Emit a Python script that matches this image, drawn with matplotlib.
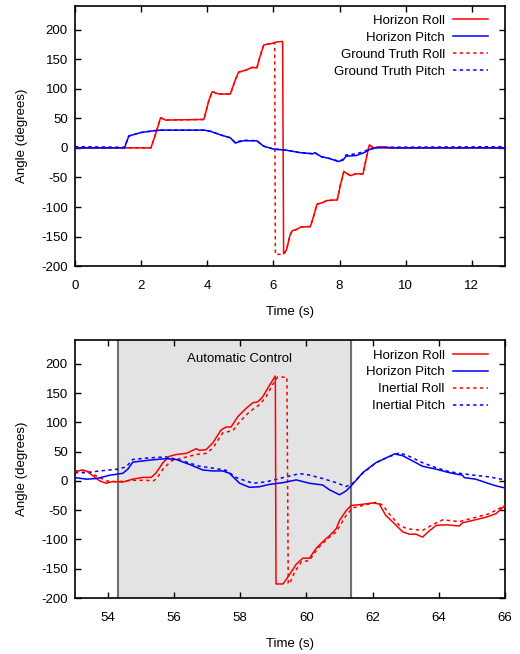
import numpy as np
import matplotlib
matplotlib.use("Agg")
import matplotlib.pyplot as plt

plt.rcParams['font.family'] = ['Liberation Sans', 'DejaVu Sans']
plt.rcParams['font.size'] = 9.5
plt.rcParams['axes.unicode_minus'] = False

# ---- top panel: horizon vs ground truth ----
t_roll_top = [0, 2.3, 2.45, 2.59, 2.74, 3.9, 4.05, 4.15, 4.35, 4.7, 4.85, 4.95, 5.15, 5.36, 5.5,
              5.6, 5.71, 5.91, 6.11, 6.28, 6.31, 6.4, 6.5, 6.57, 6.7, 6.82, 7.12, 7.22, 7.32,
              7.47, 7.62, 7.93, 8.03, 8.13, 8.33, 8.48, 8.71, 8.8, 8.9, 9.03, 9.28, 9.6, 13]
v_roll_top = [0, 0, 25, 51, 47, 48, 80, 95, 91, 91, 115, 128, 131, 136, 135,
              155, 174, 176, 179, 180, -179, -172, -148, -140, -138, -134, -133, -115, -95,
              -93, -89, -88, -62, -40, -47, -44, -44, -20, 5, 0, 2, 0, 0]

t_roll_gt = [0, 2.3, 2.45, 2.59, 2.74, 3.9, 4.05, 4.15, 4.35, 4.7, 4.85, 4.95, 5.15, 5.36, 5.5,
             5.6, 5.71, 5.91, 6.04, 6.06, 6.24, 6.33, 6.4, 6.5, 6.57, 6.7, 6.82, 7.12, 7.22, 7.32,
             7.47, 7.62, 7.93, 8.03, 8.13, 8.33, 8.48, 8.71, 8.8, 8.9, 9.03, 9.28, 9.6, 13]
v_roll_gt = [0, 0, 25, 51, 47, 48, 80, 95, 91, 91, 115, 128, 131, 136, 135,
             155, 174, 176, 178, -180, -180, -178, -172, -148, -140, -138, -134, -133, -115, -95,
             -93, -89, -88, -62, -40, -47, -44, -44, -20, 5, 0, 2, 0, 0]

t_pitch_top = [0, 1.5, 1.63, 1.75, 2.0, 2.4, 2.6, 3.9, 4.1, 4.4, 4.7, 4.85, 4.95, 5.1, 5.5,
               5.7, 6.0, 6.4, 6.8, 7.2, 7.25, 7.45, 7.7, 7.95, 8.1, 8.2, 8.5, 8.75, 8.9, 9.1, 13]
v_pitch_top = [0, 0, 20, 22, 26, 29, 30, 30, 28, 22, 17, 8, 10, 12, 12,
               3, -2, -4, -8, -10, -8, -15, -18, -23, -21, -14, -13, -8, -3, 0, 0]

t_pitch_gt = [0, 1.5, 1.63, 1.75, 2.0, 2.4, 2.6, 3.9, 4.1, 4.4, 4.7, 4.85, 4.95, 5.1, 5.5,
              5.7, 6.0, 6.4, 6.8, 7.2, 7.25, 7.45, 7.7, 7.95, 8.1, 8.2, 8.5, 8.75, 8.9, 9.1, 13]
v_pitch_gt = [2, 1, 20, 22, 26, 29, 30, 30, 28, 22, 17, 9, 11, 13, 12,
              3, -2, -4, -8, -10, -8, -15, -18, -22, -20, -12, -10, -6, -2, 1, 2]

# ---- bottom panel: horizon vs inertial ----
t_roll_bot = [53.0, 53.2, 53.35, 53.55, 53.75, 53.95, 54.15, 54.45, 54.75, 55.06, 55.31, 55.46,
              55.66, 55.86, 56.06, 56.37, 56.67, 56.77, 56.97, 57.17, 57.42, 57.57, 57.72, 57.93,
              58.18, 58.38, 58.53, 58.68, 58.88, 59.06, 59.08, 59.29, 59.49, 59.69, 59.89, 60.09,
              60.29, 60.49, 60.69, 60.9, 61.0, 61.2, 61.35, 61.6, 62.0, 62.2, 62.4, 62.66, 62.91,
              63.11, 63.31, 63.51, 63.71, 63.92, 64.22, 64.62, 64.72, 65.02, 65.43, 65.73, 66.0]
v_roll_bot = [15, 18.6, 17, 8.5, 0, -4, -1, -2, 3, 6, 6, 14,
              31, 42, 45, 47, 55, 52, 53.5, 65, 87, 92, 92, 110,
              124, 133.5, 135, 143.7, 163, 179, -176, -176, -160, -142.5, -132, -132,
              -115.5, -104, -94, -81.7, -67.6, -50.7, -42, -40.6, -37.7, -39.4, -59, -73, -87,
              -91, -91, -96, -85.6, -76, -75, -77, -71.5, -67.6, -62, -56, -42]

t_roll_in = [53.0, 53.35, 53.65, 53.95, 54.25, 54.75, 55.16, 55.36, 55.46, 55.66, 55.91, 56.27,
             56.67, 56.97, 57.17, 57.47, 57.78, 57.98, 58.28, 58.58, 58.78, 58.98, 59.13, 59.41,
             59.45, 59.49, 59.65, 59.85, 60.09, 60.34, 60.64, 60.9, 61.2, 61.4, 61.7, 62.1, 62.3,
             62.5, 62.81, 63.06, 63.51, 63.81, 64.12, 64.62, 65.02, 65.53, 66.0]
v_roll_in = [17, 17.5, 8.5, 0, -1.7, 1, 1, 0, 3, 20, 34, 39.4,
             45, 47, 56, 82, 86, 101, 118, 130, 143.7, 164.5, 177.5, 177,
             -175, -176, -155, -138, -136, -115.5, -98.6, -87, -59, -46, -42, -36.6, -41,
             -56, -76, -82, -84.5, -75, -66.5, -69.5, -63.7, -56, -42]

t_pitch_bot = [53.0, 53.35, 53.65, 54.05, 54.45, 54.6, 54.75, 55.26, 55.76, 56.06, 56.47, 56.87,
               57.17, 57.47, 57.67, 57.98, 58.28, 58.58, 58.88, 59.29, 59.69, 60.09, 60.49, 60.69,
               61.0, 61.2, 61.4, 61.7, 62.1, 62.4, 62.66, 62.91, 63.21, 63.51, 63.92, 64.32, 64.72,
               64.77, 65.11, 65.43, 65.73, 66.0]
v_pitch_bot = [5.6, 3, 4, 9.6, 13, 20, 32, 35.5, 38, 36.6, 28, 18.6,
               17, 17, 13, -4, -11, -10, -6, -3, 1.7, -4, -7, -15,
               -23.7, -17, -5.6, 14, 31, 39, 46, 43, 34, 25, 20, 14, 9.6,
               5.6, 3, -3, -8.5, -12]

t_pitch_in = [53.0, 53.35, 53.75, 54.3, 54.55, 54.75, 55.26, 55.76, 56.27, 56.77, 57.27, 57.57,
              57.88, 58.38, 58.78, 59.18, 59.59, 59.79, 60.09, 60.49, 60.9, 61.2, 61.4, 61.7,
              62.1, 62.4, 62.81, 63.11, 63.51, 63.92, 64.32, 64.62, 65.02, 65.53, 66.0]
v_pitch_in = [14, 14, 17, 20, 24, 36.6, 39.4, 41, 34, 25, 21, 18,
              5.6, -4, -1.7, 4, 9.6, 12.4, 10, 4, -3, -9.6, -4, 13,
              31, 39, 48, 42, 31, 22.5, 15.8, 13, 10, 6.8, 1.7]

auto_start, auto_end = 54.31, 61.36

dash = (0, (2.2, 2.2))
red = '#ff0000'
blue = '#0000ff'


def style_axes(ax):
    ax.tick_params(direction='in', top=True, right=True, length=4, width=1)
    ax.tick_params(axis='x', pad=10)
    ax.tick_params(axis='y', pad=5)
    for s in ax.spines.values():
        s.set_linewidth(1.2)
    ax.set_ylim(-200, 240)
    ax.set_yticks(np.arange(-200, 201, 50))
    ax.set_xlabel('Time (s)', labelpad=10)
    ax.set_ylabel('Angle (degrees)')
    # put the y label where it sits in the reference, regardless of tick width
    ax.yaxis.set_label_coords(-0.108, 0.5)
    ax.legend(loc='upper right', bbox_to_anchor=(0.986, 1.006), frameon=False,
              markerfirst=False, handlelength=2.7, labelspacing=0.35,
              borderaxespad=0.4, handletextpad=0.6)


fig = plt.figure(figsize=(5.2, 6.54), dpi=100)

ax1 = fig.add_axes([0.144, 0.593, 0.827, 0.398])
ax1.plot(t_roll_top, v_roll_top, color=red, lw=1.1, label='Horizon Roll', zorder=3)
ax1.plot(t_pitch_top, v_pitch_top, color=blue, lw=1.1, label='Horizon Pitch', zorder=3)
ax1.plot(t_roll_gt, v_roll_gt, color=red, lw=1.1, ls=dash, label='Ground Truth Roll', zorder=2)
ax1.plot(t_pitch_gt, v_pitch_gt, color=blue, lw=1.1, ls=dash, label='Ground Truth Pitch', zorder=2)
ax1.set_xlim(0, 13)
ax1.set_xticks(np.arange(0, 13, 2))
style_axes(ax1)

ax2 = fig.add_axes([0.144, 0.0856, 0.827, 0.394])
ax2.axvspan(auto_start, auto_end, color='#e3e3e3', zorder=0)
ax2.axvline(auto_start, color='#707070', lw=1.5, zorder=1)
ax2.axvline(auto_end, color='#707070', lw=1.5, zorder=1)
ax2.plot(t_roll_bot, v_roll_bot, color=red, lw=1.1, label='Horizon Roll', zorder=3)
ax2.plot(t_pitch_bot, v_pitch_bot, color=blue, lw=1.1, label='Horizon Pitch', zorder=3)
ax2.plot(t_roll_in, v_roll_in, color=red, lw=1.1, ls=dash, label='Inertial Roll', zorder=2)
ax2.plot(t_pitch_in, v_pitch_in, color=blue, lw=1.1, ls=dash, label='Inertial Pitch', zorder=2)
ax2.text(57.98, 208, 'Automatic Control', ha='center', va='center')
ax2.set_xlim(53, 66)
ax2.set_xticks(np.arange(54, 67, 2))
style_axes(ax2)

fig.savefig('out.png', dpi=100)
